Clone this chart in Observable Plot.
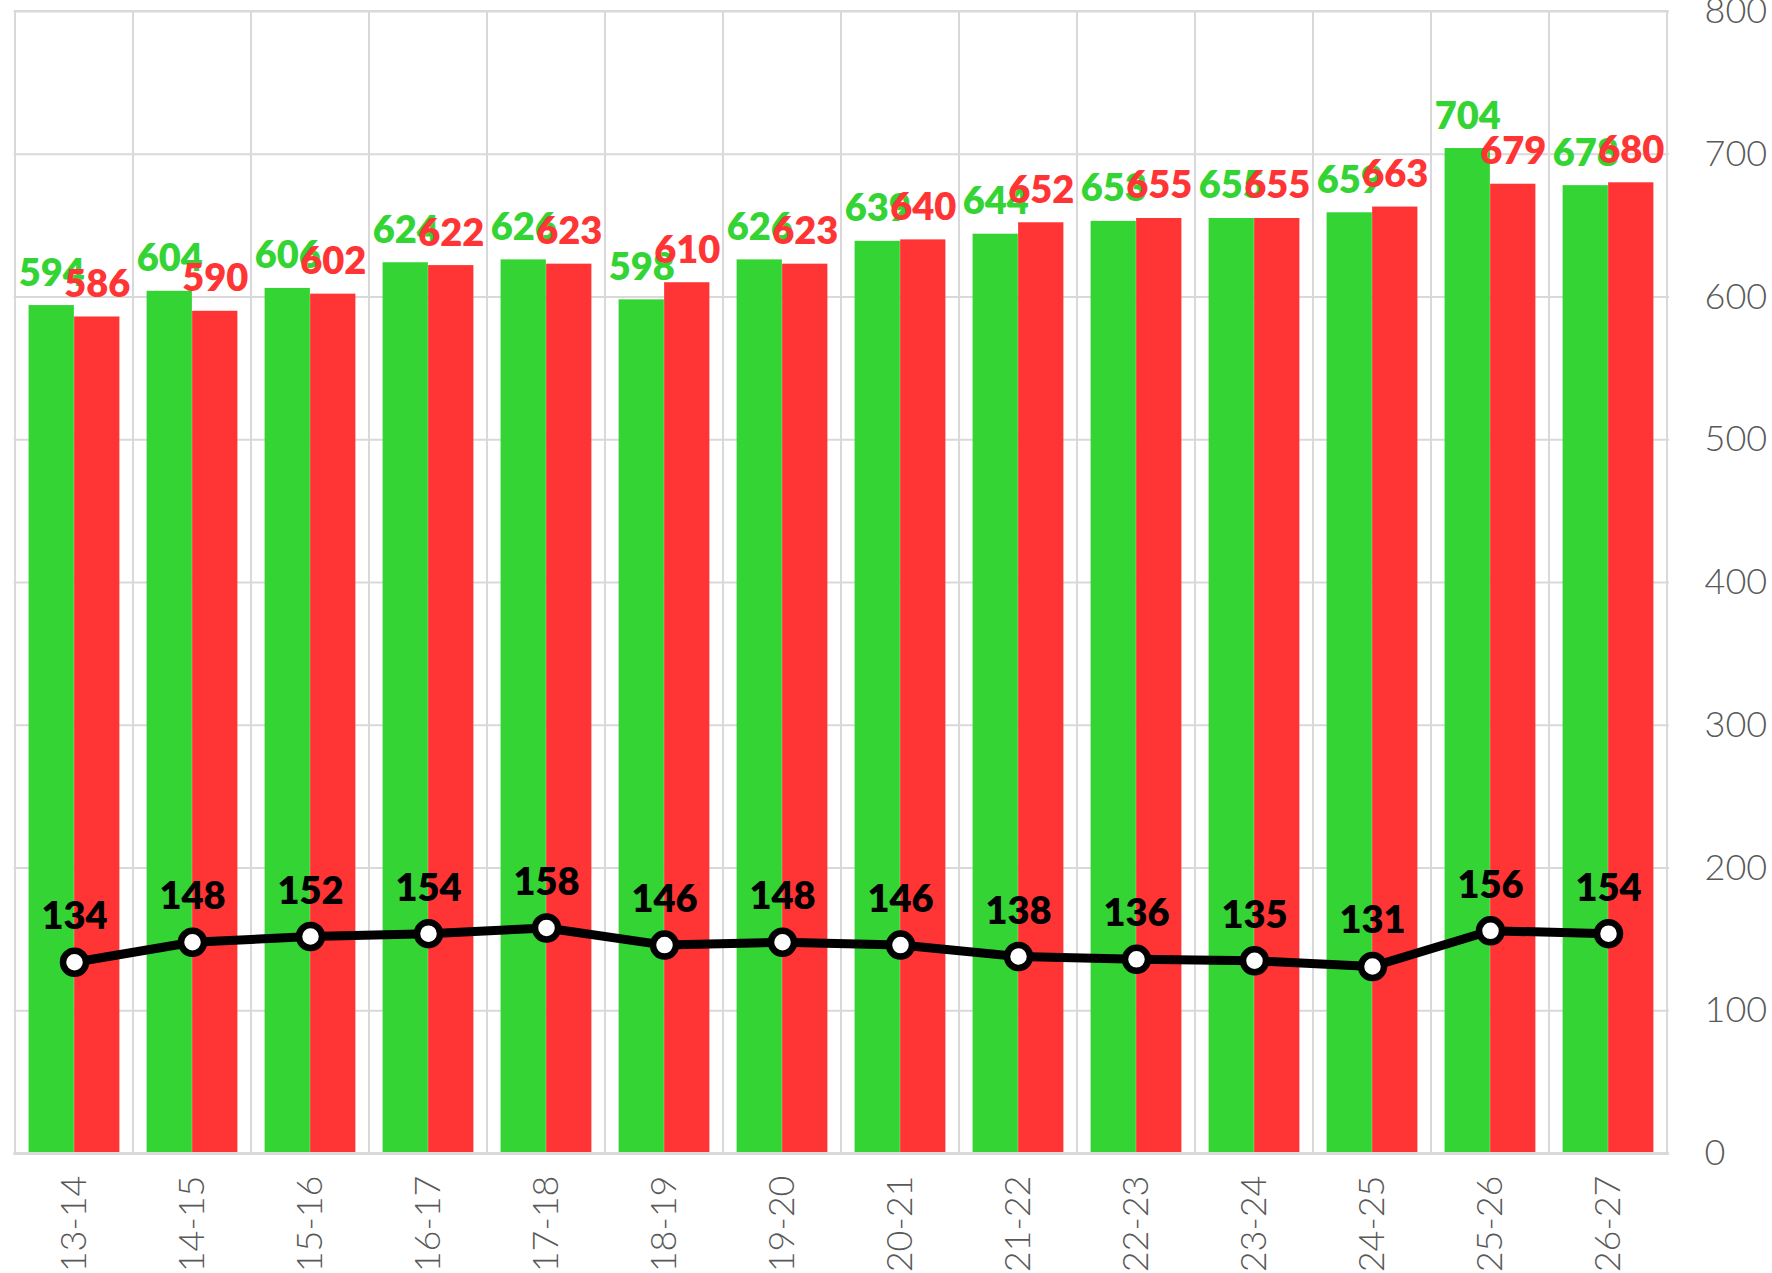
<!DOCTYPE html>
<html>
<head>
<meta charset="utf-8">
<script src="https://cdn.jsdelivr.net/npm/d3@7"></script>
<script src="https://cdn.jsdelivr.net/npm/@observablehq/plot@0.6"></script>
<style>
  html, body { margin: 0; padding: 0; background: #fff; }
  #chart { width: 1772px; height: 1273px; overflow: hidden; }
</style>
</head>
<body>
<div id="chart"></div>
<script>
const seasons = ["13-14","14-15","15-16","16-17","17-18","18-19","19-20","20-21","21-22","22-23","23-24","24-25","25-26","26-27"];
const greenValues = [594, 604, 606, 624, 626, 598, 626, 639, 644, 653, 655, 659, 704, 678];
const redValues   = [586, 590, 602, 622, 623, 610, 623, 640, 652, 655, 655, 663, 679, 680];
const lineValues  = [134, 148, 152, 154, 158, 146, 148, 146, 138, 136, 135, 131, 156, 154];
const yTicks = [0, 100, 200, 300, 400, 500, 600, 700, 800];

const W = 1772, H = 1273;
const mL = 13.6, mR = 103, mT = 11, mB = 120;
const bw = (W - mL - mR) / seasons.length;
const gStart = 0.115, gMid = 0.5, gEnd = 0.885;

const GREEN = "#35D435", RED = "#FF3535", GRID = "#D9D9D9", AXIS = "#595959";

const rows = seasons.map((s, i) => ({season: s, green: greenValues[i], red: redValues[i], line: lineValues[i]}));

const labelFont = {fontFamily: "Lato, 'Open Sans', sans-serif", fontWeight: 800, fontSize: 38};

const chart = Plot.plot({
  width: W, height: H,
  marginLeft: mL, marginRight: mR, marginTop: mT, marginBottom: mB,
  style: {fontFamily: "Lato, 'Open Sans', sans-serif", background: "#fff"},
  x: {type: "band", domain: seasons, padding: 0},
  y: {domain: [0, 800]},
  marks: [
    Plot.ruleY(yTicks, {stroke: GRID, strokeWidth: 2}),
    Plot.barY(rows, {x: "season", y1: 0, y2: 800, fill: "none", stroke: GRID, strokeWidth: 2}),
    Plot.barY(rows, {x: "season", y: "green", fill: GREEN,
      insetLeft: gStart * bw, insetRight: (1 - gMid) * bw}),
    Plot.barY(rows, {x: "season", y: "red", fill: RED,
      insetLeft: gMid * bw, insetRight: (1 - gEnd) * bw}),
    Plot.ruleY([0], {stroke: GRID, strokeWidth: 3}),
    Plot.text(rows, {x: "season", y: "green", text: d => String(d.green), fill: GREEN,
      dx: ((gStart + gMid) / 2 - 0.5) * bw, dy: -20, lineAnchor: "bottom", ...labelFont}),
    Plot.text(rows, {x: "season", y: "red", text: d => String(d.red), fill: RED,
      dx: ((gMid + gEnd) / 2 - 0.5) * bw, dy: -20, lineAnchor: "bottom", ...labelFont}),
    Plot.line(rows, {x: "season", y: "line", stroke: "#000", strokeWidth: 9, strokeLinejoin: "round"}),
    Plot.dot(rows, {x: "season", y: "line", r: 11.5, fill: "#fff", stroke: "#000", strokeWidth: 6.5}),
    Plot.text(rows, {x: "season", y: "line", text: d => String(d.line), fill: "#000",
      dy: -33, lineAnchor: "bottom", ...labelFont}),
    Plot.axisY(yTicks, {anchor: "right", tickSize: 0, tickPadding: 35, fontSize: 36,
      color: AXIS, fontWeight: 300, label: null}),
    Plot.axisX({tickSize: 0, tickPadding: 22, tickRotate: -90, fontSize: 36,
      color: AXIS, fontWeight: 300, label: null})
  ]
});
document.getElementById("chart").appendChild(chart);
</script>
</body>
</html>
